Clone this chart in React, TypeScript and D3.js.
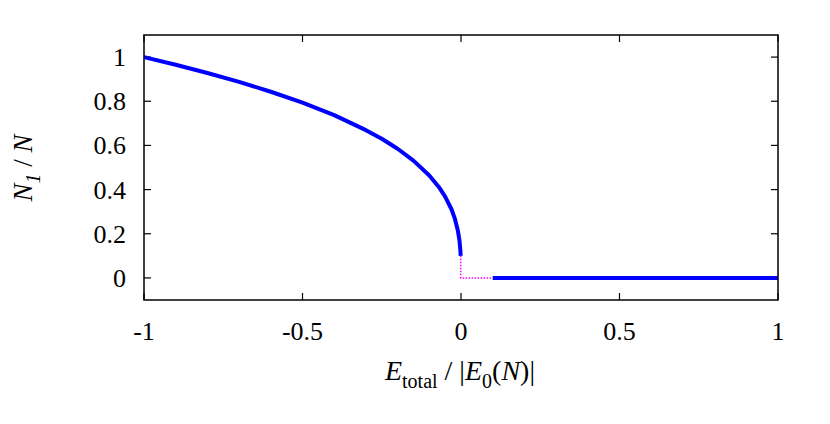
import React from "react";
import * as d3 from "d3";

const curveX = [-1, -0.9, -0.8, -0.7, -0.6, -0.5, -0.4, -0.3, -0.25, -0.2, -0.15, -0.1, -0.07, -0.05, -0.03, -0.02, -0.01, -0.005, -0.002, -0.001];
const curveY = [1, 0.965, 0.928, 0.888, 0.843, 0.794, 0.737, 0.669, 0.63, 0.585, 0.531, 0.464, 0.412, 0.368, 0.311, 0.271, 0.215, 0.171, 0.126, 0.1];
const gapX = [-0.001, -0.001, 0.1];
const gapY = [0.1, 0, 0];
const flatX = [0.1, 1];
const flatY = [0, 0];
const xTicks = [-1, -0.5, 0, 0.5, 1];
const yTicks = [0, 0.2, 0.4, 0.6, 0.8, 1];

export default function App() {
  const W = 830, H = 424;
  const L = 144, R = 778, T = 35, B = 300;
  const x = d3.scaleLinear().domain([-1, 1]).range([L, R]);
  const y = d3.scaleLinear().domain([-0.1, 1.1]).range([B, T]);
  const line = d3.line<[number, number]>().x(d => x(d[0])).y(d => y(d[1]));
  const curve = line(curveX.map((v, i) => [v, curveY[i]]));
  const gap = line(gapX.map((v, i) => [v, gapY[i]]));
  const flat = line(flatX.map((v, i) => [v, flatY[i]]));
  const font = "Liberation Serif, Times New Roman, serif";
  const tl = 7;
  return (
    <svg width={W} height={H} style={{ position: "absolute", left: 0, top: 0, background: "#fff" }} fontFamily={font}>
      {xTicks.map(t => (
        <g key={"x" + t}>
          <line x1={x(t)} x2={x(t)} y1={B} y2={B - tl} stroke="#000" strokeWidth={1.2} />
          <line x1={x(t)} x2={x(t)} y1={T} y2={T + tl} stroke="#000" strokeWidth={1.2} />
          <text x={x(t)} y={340} fontSize={26} textAnchor="middle">{String(t)}</text>
        </g>
      ))}
      {yTicks.map(t => (
        <g key={"y" + t}>
          <line x1={L} x2={L + tl} y1={y(t)} y2={y(t)} stroke="#000" strokeWidth={1.2} />
          <line x1={R} x2={R - tl} y1={y(t)} y2={y(t)} stroke="#000" strokeWidth={1.2} />
          <text x={126} y={y(t) + 9} fontSize={26} textAnchor="end">{String(t)}</text>
        </g>
      ))}
      <path d={gap ?? ""} fill="none" stroke="#ff00ff" strokeWidth={1.5} strokeDasharray="1.5,1.5" />
      <path d={curve ?? ""} fill="none" stroke="#0000ff" strokeWidth={4} strokeLinejoin="round" />
      <path d={flat ?? ""} fill="none" stroke="#0000ff" strokeWidth={4} />
      <rect x={L} y={T} width={R - L} height={B - T} fill="none" stroke="#000" strokeWidth={1.5} />
      <text x={460} y={380} fontSize={28} textAnchor="middle">
        <tspan fontStyle="italic">E</tspan>
        <tspan fontSize={20} dy={8}>total</tspan>
        <tspan dy={-8}> / |</tspan>
        <tspan fontStyle="italic">E</tspan>
        <tspan fontSize={20} dy={8}>0</tspan>
        <tspan dy={-8}>(</tspan>
        <tspan fontStyle="italic">N</tspan>
        <tspan>)|</tspan>
      </text>
      <text transform="translate(32,168) rotate(-90)" fontSize={27} textAnchor="middle">
        <tspan fontStyle="italic">N</tspan>
        <tspan fontStyle="italic" fontSize={20} dy={8}>1</tspan>
        <tspan dy={-8}> / </tspan>
        <tspan fontStyle="italic">N</tspan>
      </text>
    </svg>
  );
}
